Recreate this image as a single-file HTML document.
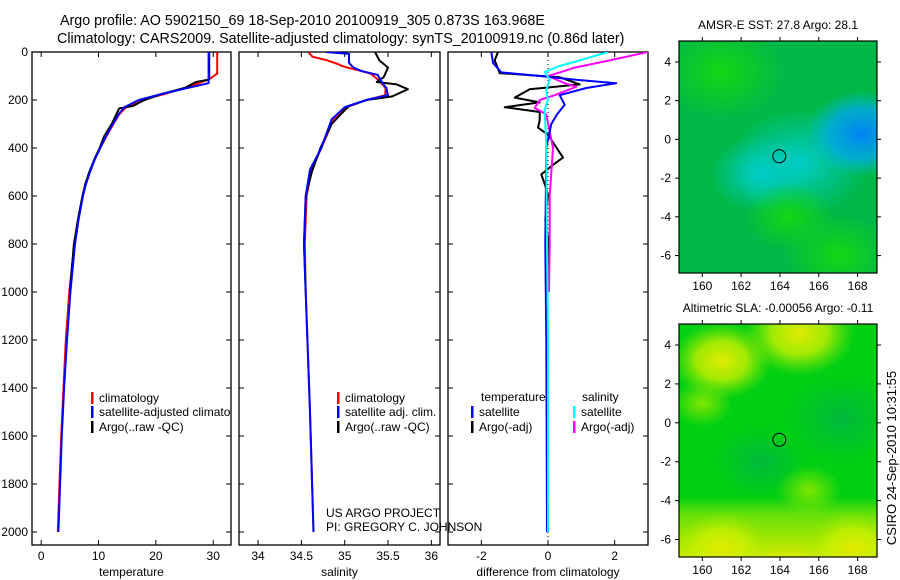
<!DOCTYPE html>
<html><head><meta charset="utf-8">
<style>
body{margin:0;background:#fff;}
svg{display:block;font-family:"Liberation Sans",sans-serif;}
</style></head>
<body>
<svg id="fig" width="900" height="580" viewBox="0 0 900 580" xmlns="http://www.w3.org/2000/svg">
<rect width="900" height="580" fill="#fff"/>
<text x="60" y="25" font-size="14.3">Argo profile: AO 5902150_69 18-Sep-2010 20100919_305 0.873S 163.968E</text>
<text x="57" y="43" font-size="14.3">Climatology: CARS2009. Satellite-adjusted climatology: synTS_20100919.nc (0.86d later)</text>
<defs>
<clipPath id="c1"><rect x="32" y="52" width="199" height="493"/></clipPath>
<clipPath id="c2"><rect x="239" y="52" width="201" height="493"/></clipPath>
<clipPath id="c3"><rect x="448" y="52" width="200" height="493"/></clipPath>
<clipPath id="cm1"><rect x="679" y="41" width="198" height="232"/></clipPath>
<clipPath id="cm2"><rect x="679" y="324" width="198" height="233"/></clipPath>
<radialGradient id="g1cy"><stop offset="0" stop-color="rgb(0,205,200)"/><stop offset="1" stop-color="rgb(0,205,200)" stop-opacity="0"/></radialGradient>
<radialGradient id="g1bl"><stop offset="0" stop-color="rgb(0,130,245)"/><stop offset="0.6" stop-color="rgb(0,170,230)" stop-opacity="0.8"/><stop offset="1" stop-color="rgb(0,190,210)" stop-opacity="0"/></radialGradient>
<radialGradient id="g1gr"><stop offset="0" stop-color="rgb(20,215,20)"/><stop offset="1" stop-color="rgb(20,215,20)" stop-opacity="0"/></radialGradient>
<radialGradient id="g2ye"><stop offset="0" stop-color="rgb(225,235,0)"/><stop offset="0.5" stop-color="rgb(200,240,0)" stop-opacity="0.8"/><stop offset="1" stop-color="rgb(150,230,0)" stop-opacity="0"/></radialGradient>
<radialGradient id="g2lt"><stop offset="0" stop-color="rgb(130,230,0)"/><stop offset="1" stop-color="rgb(130,230,0)" stop-opacity="0"/></radialGradient>
<radialGradient id="g2dk"><stop offset="0" stop-color="rgb(0,185,60)"/><stop offset="1" stop-color="rgb(0,185,60)" stop-opacity="0"/></radialGradient>
<linearGradient id="g2bot" x1="0" y1="0" x2="0" y2="1"><stop offset="0" stop-color="rgb(170,235,0)" stop-opacity="0"/><stop offset="0.3" stop-color="rgb(170,235,0)" stop-opacity="0.6"/><stop offset="1" stop-color="rgb(215,235,0)"/></linearGradient>
</defs>
<g id="panels"></g>
<g id="maps"></g>
<text x="326" y="517" font-size="12">US ARGO PROJECT</text>
<text x="326" y="531" font-size="12">PI: GREGORY C. JOHNSON</text>
<text x="0" y="0" font-size="13" text-anchor="middle" transform="translate(896,458) rotate(-90)">CSIRO 24-Sep-2010 10:31:55</text>
</svg>
<script>
// ---- data ----
const tempClimDepth = [0,90,110,130,150,175,200,230,260,300,350,400,450,500,550,600,700,800,1000,1200,1400,1600,1800,2000];
const tempClimVal   = [30.7,30.7,29.5,27.5,25,21.5,17.5,14.8,13.6,12.6,11.4,10.3,9.3,8.5,7.8,7.2,6.4,5.8,4.9,4.3,3.9,3.5,3.2,2.9];
const tempSatDepth  = [0,130,150,175,200,230,260,300,350,400,450,500,550,600,700,800,1000,1200,1400,1600,1800,2000];
const tempSatVal    = [29.2,29.2,25.5,21,17,14.5,13.5,12.5,11.3,10.3,9.3,8.5,7.8,7.3,6.5,5.9,5.1,4.5,4,3.6,3.3,3.0];
const tempArgoDepth = [0,115,125,150,175,200,225,235,260,300,350,400,440,500,550,600,700,800,1000];
const tempArgoVal   = [29.3,29.3,27,25,21,18,16,13.6,13.1,12.3,11,10.2,9.4,8.4,7.7,7.2,6.4,5.7,5.0];

const salClimDepth = [0,20,35,50,58,65,75,90,120,150,180,200,230,280,350,400,490,600,800,1000,1500,2000];
const salClimVal   = [34.58,34.63,34.8,34.92,34.97,35.03,35.15,35.3,35.4,35.47,35.47,35.25,35.02,34.87,34.79,34.73,34.62,34.56,34.54,34.55,34.6,34.64];
const salSatDepth  = [0,8,45,65,80,95,120,150,180,200,230,280,350,400,490,600,800,1000,1500,2000];
const salSatVal    = [34.78,35.05,35.05,35.1,35.2,35.38,35.42,35.48,35.5,35.25,35.0,34.85,34.78,34.73,34.6,34.55,34.53,34.55,34.6,34.64];
const salArgoDepth = [0,35,65,105,125,135,155,185,200,225,250,300,400,500,600,800,1000];
const salArgoVal   = [35.35,35.4,35.5,35.45,35.37,35.6,35.73,35.55,35.25,35.05,34.98,34.85,34.72,34.62,34.55,34.53,34.55];

const dTempSatDepth = [0,45,85,100,115,130,150,180,220,260,300,400,800,1200,2000];
const dTempSatVal   = [-1.7,-1.65,-1.4,-0.25,0.8,2.05,1.15,0.35,0.5,0.27,0.1,-0.05,-0.08,-0.05,-0.03];
const dTempArgoDepth= [0,35,88,105,135,155,190,210,230,250,285,315,345,440,470,510,550,595,700,800,1000];
const dTempArgoVal  = [-1.5,-1.6,-1.45,0.35,0.95,-0.55,-1.0,-0.25,-1.3,-0.25,-0.25,-0.3,0,0.45,0.15,-0.2,-0.1,0,-0.08,0.02,-0.05];
const dSalSatDepth  = [0,35,58,83,115,160,200,240,400,800,1200,2000];
const dSalSatVal    = [1.8,0.95,0.35,-0.1,0.05,-0.05,0,-0.1,-0.05,-0.03,0,0];
const dSalArgoDepth = [0,35,65,85,100,130,145,180,200,233,260,400,600,800,1000];
const dSalArgoVal   = [3.0,1.85,0.8,0.35,0,0.5,0.85,0.2,-0.25,-0.4,-0.05,0.15,0.05,0.05,0.03];

const tempTicks = [0,10,20,30];
const salTicks = [34,34.5,35,35.5,36];
const diffTicks = [-2,0,2];
const depthTicks = [0,200,400,600,800,1000,1200,1400,1600,1800,2000];
const lonTicks = [160,162,164,166,168];
const latTicks = [4,2,0,-2,-4,-6];
const argoLon = 163.968, argoLat = -0.873;

// ---- helpers ----
const NS='http://www.w3.org/2000/svg';
function mk(tag, attrs, parent){const e=document.createElementNS(NS,tag);for(const k in attrs)e.setAttribute(k,attrs[k]);parent.appendChild(e);return e;}
const Y0=52, PX_PER_M=0.24;
const yScale = d => Y0 + d*PX_PER_M;
const panelsG=document.getElementById('panels');
const panels=[
 {x0:32,x1:231,lo:-1.6,hi:33.1,clip:'c1',ticks:tempTicks,label:'temperature',name:'temperature'},
 {x0:239,x1:440,lo:33.78,hi:36.1,clip:'c2',ticks:salTicks,label:'salinity',name:'salinity'},
 {x0:448,x1:648,lo:-3.0,hi:3.0,clip:'c3',ticks:diffTicks,label:'difference from climatology',name:'difference'}
];
const BOT=545;
panels.forEach((p,i)=>{
  p.xs = v => p.x0 + (v-p.lo)/(p.hi-p.lo)*(p.x1-p.x0);
  const g=mk('g',{},panelsG);
  
  
  const fr=mk('rect',{x:p.x0,y:Y0,width:p.x1-p.x0,height:BOT-Y0,fill:'none',stroke:'#000','stroke-width':1.3},g);
  
  
  p.ticks.forEach(t=>{
    const x=p.xs(t);
    mk('line',{x1:x,x2:x,y1:BOT,y2:BOT-5,stroke:'#000'},g);
    mk('line',{x1:x,x2:x,y1:Y0,y2:Y0+5,stroke:'#000'},g);
    const tl=mk('text',{x:x,y:BOT+15,'font-size':12,'text-anchor':'middle'},g);
    tl.textContent=String(t);
    
    
  });
  depthTicks.forEach(d=>{
    const y=yScale(d);
    mk('line',{x1:p.x0,x2:p.x0+5,y1:y,y2:y,stroke:'#000'},g);
    mk('line',{x1:p.x1,x2:p.x1-5,y1:y,y2:y,stroke:'#000'},g);
    if(i===0){
      const tl=mk('text',{x:p.x0-4,y:y+4,'font-size':12,'text-anchor':'end'},g);
      tl.textContent=String(d);
      
      
    }
  });
  const xl=mk('text',{x:(p.x0+p.x1)/2,y:576,'font-size':12,'text-anchor':'middle'},g);
  xl.textContent=p.label;
  
  
  p.g=g;
});
function series(p, depths, vals, color, name, w){
  const pts=depths.map((d,k)=>p.xs(vals[k]).toFixed(1)+','+yScale(d).toFixed(1)).join(' ');
  const pl=mk('polyline',{points:pts,fill:'none',stroke:color,'stroke-width':w||2,'clip-path':'url(#'+p.clip+')','stroke-linejoin':'round'},p.g);
  
  
}
mk('line',{x1:panels[2].xs(0),x2:panels[2].xs(0),y1:Y0,y2:BOT,stroke:'#000','stroke-dasharray':'1,3'},panels[2].g);
series(panels[0],tempClimDepth,tempClimVal,'#f00','temp-climatology-line');
series(panels[0],tempArgoDepth,tempArgoVal,'#000','temp-argo-line');
series(panels[0],tempSatDepth,tempSatVal,'#00f','temp-satellite-line');
series(panels[1],salClimDepth,salClimVal,'#f00','sal-climatology-line');
series(panels[1],salArgoDepth,salArgoVal,'#000','sal-argo-line');
series(panels[1],salSatDepth,salSatVal,'#00f','sal-satellite-line');
series(panels[2],dTempArgoDepth,dTempArgoVal,'#000','diff-temp-argo-line');
series(panels[2],dSalArgoDepth,dSalArgoVal,'#f0f','diff-sal-argo-line');
series(panels[2],dTempSatDepth,dTempSatVal,'#00f','diff-temp-satellite-line');
series(panels[2],dSalSatDepth,dSalSatVal,'#0ff','diff-sal-satellite-line');

function legend(g,x,y,color,text,name,clip){
  const b=mk('rect',{x:x,y:y-10,width:2.5,height:12,fill:color},g);
  
  
  const t=mk('text',{x:x+8,y:y,'font-size':12},g);
  if(clip) t.setAttribute('clip-path','url(#'+clip+')');
  t.textContent=text;
  
  
}
legend(panels[0].g,91,402,'#f00','climatology','legend-climatology');
legend(panels[0].g,91,416,'#00f','satellite-adjusted climatology','legend-satellite','c1');
legend(panels[0].g,91,431,'#000','Argo(..raw -QC)','legend-argo');
legend(panels[1].g,337,402,'#f00','climatology','legend-sal-climatology');
legend(panels[1].g,337,416,'#00f','satellite adj. clim.','legend-sal-satellite');
legend(panels[1].g,337,431,'#000','Argo(..raw -QC)','legend-sal-argo');
(function(){const g=panels[2].g;
 const a=mk('text',{x:481,y:401,'font-size':12},g);a.textContent='temperature';
 
 
 const b=mk('text',{x:582,y:401,'font-size':12},g);b.textContent='salinity';
 
 
})();
legend(panels[2].g,471,416,'#00f','satellite','legend-diff-temp-satellite');
legend(panels[2].g,471,431,'#000','Argo(-adj)','legend-diff-temp-argo');
legend(panels[2].g,573,416,'#0ff','satellite','legend-diff-sal-satellite');
legend(panels[2].g,573,431,'#f0f','Argo(-adj)','legend-diff-sal-argo');

// ---- maps ----
const mapsG=document.getElementById('maps');
const maps=[
 {y0:41,y1:273,clip:'cm1',title:'AMSR-E SST: 27.8 Argo: 28.1',name:'sst-map',base:'rgb(0,184,72)',
  blobs:[[165,-1.2,2.8,'g1cy'],[163,-1.8,2.0,'g1cy'],[168.2,0.3,2.2,'g1bl'],[161,3.5,2.5,'g1gr'],[167,-6,2.2,'g1gr'],[164.5,-4,1.8,'g1gr']]},
 {y0:324,y1:557,clip:'cm2',title:'Altimetric SLA: -0.00056 Argo: -0.11',name:'sla-map',base:'rgb(0,208,20)',
  blobs:[[165,4.6,2.2,'g2ye'],[161,3.2,2.0,'g2ye'],[160,1,1.2,'g2lt'],[167.2,0.2,2.2,'g2dk'],[163,-2,1.8,'g2dk'],[165.5,-3.5,1.3,'g2lt'],[161,-6.5,2.0,'g2ye'],[167.8,-6.5,2.0,'g2ye']]}
];
maps.forEach(m=>{
  const x0=679,x1=877;
  const xs=v=>x0+(v-158.8)/(169.0-158.8)*(x1-x0);
  const ys=v=>m.y0+(5.08-v)/(5.08+6.9)*(m.y1-m.y0);
  const g=mk('g',{},mapsG);
  
  
  const cg=mk('g',{'clip-path':'url(#'+m.clip+')'},g);
  mk('rect',{x:x0,y:m.y0,width:x1-x0,height:m.y1-m.y0,fill:m.base},cg);
  if(m.name==='sla-map'){
    mk('rect',{x:x0,y:ys(-3.8),width:x1-x0,height:m.y1-ys(-3.8),fill:'url(#g2bot)'},cg);
  }
  m.blobs.forEach(b=>{
    const r=b[2]*19.4;
    mk('ellipse',{cx:xs(b[0]),cy:ys(b[1]),rx:r*1.3,ry:r,fill:'url(#'+b[3]+')'},cg);
  });
  const fr=mk('rect',{x:x0,y:m.y0,width:x1-x0,height:m.y1-m.y0,fill:'none',stroke:'#000','stroke-width':1.2},g);
  
  
  const mk1=mk('circle',{cx:xs(argoLon),cy:ys(argoLat),r:6.5,fill:'none',stroke:'#000','stroke-width':1},g);
  
  
  lonTicks.forEach(t=>{
    const x=xs(t);
    mk('line',{x1:x,x2:x,y1:m.y0,y2:m.y0-4,stroke:'#000'},g);
    mk('line',{x1:x,x2:x,y1:m.y1,y2:m.y1+4,stroke:'#000'},g);
    const tl=mk('text',{x:x,y:m.y1+17,'font-size':12,'text-anchor':'middle'},g);
    tl.textContent=String(t);
    
    
  });
  latTicks.forEach(t=>{
    const y=ys(t);
    mk('line',{x1:x0,x2:x0-4,y1:y,y2:y,stroke:'#000'},g);
    mk('line',{x1:x1,x2:x1+4,y1:y,y2:y,stroke:'#000'},g);
    const tl=mk('text',{x:x0-8,y:y+4,'font-size':12,'text-anchor':'end'},g);
    tl.textContent=String(t);
    
    
  });
  const tt=mk('text',{x:(x0+x1)/2,y:m.y0-12,'font-size':12,'text-anchor':'middle'},g);
  tt.textContent=m.title;
  
  
});
</script>
</body></html>
